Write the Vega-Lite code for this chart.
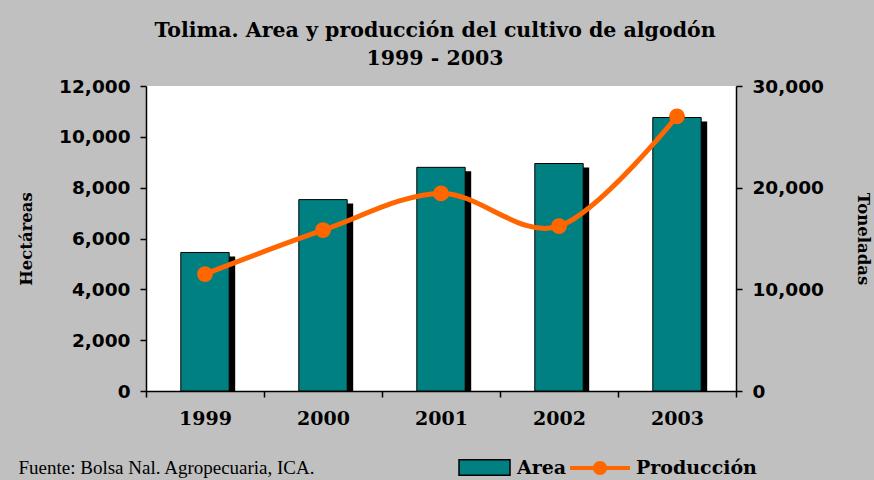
{
  "$schema": "https://vega.github.io/schema/vega-lite/v6.json",
  "autosize": "none",
  "width": 590,
  "height": 305,
  "padding": {"left": 146, "top": 86, "right": 138, "bottom": 89},
  "background": "#C0C0C0",
  "config": {
    "view": {"fill": "white", "stroke": null},
    "axis": {"grid": false, "domainColor": "black", "domainWidth": 1.5, "tickColor": "black", "tickWidth": 1.5, "tickSize": 6, "labelColor": "black", "titleColor": "black"}
  },
  "title": {
    "text": ["Tolima. Area y producción del cultivo de algodón", "1999 - 2003"],
    "font": "DejaVu Serif",
    "fontSize": 20.5,
    "fontWeight": "bold",
    "lineHeight": 28,
    "anchor": "middle",
    "offset": 8,
    "dx": -6,
    "color": "black"
  },
  "data": {
    "values": [
      {"year": "1999", "area": 5450, "produccion": 11500},
      {"year": "2000", "area": 7530, "produccion": 15820},
      {"year": "2001", "area": 8800, "produccion": 19430},
      {"year": "2002", "area": 8950, "produccion": 16210},
      {"year": "2003", "area": 10760, "produccion": 27020}
    ]
  },
  "encoding": {
    "x": {
      "field": "year",
      "type": "ordinal",
      "scale": {"paddingInner": 0, "paddingOuter": 0},
      "axis": {
        "title": "Fuente: Bolsa Nal. Agropecuaria, ICA.",
        "titleFont": "Liberation Serif",
        "titleFontSize": 19,
        "titleFontWeight": "normal",
        "titleAnchor": "start",
        "titleAlign": "left",
        "titleBaseline": "middle",
        "titleX": -128,
        "titleY": 76,
        "labelAngle": 0,
        "labelFont": "DejaVu Serif",
        "labelFontWeight": "bold",
        "labelFontSize": 19,
        "labelPadding": 12,
        "tickBand": "extent"
      }
    }
  },
  "layer": [
    {
      "encoding": {
        "y": {
          "field": "area",
          "type": "quantitative",
          "scale": {"domain": [0, 12000], "nice": false},
          "axis": {
            "values": [0, 2000, 4000, 6000, 8000, 10000, 12000],
            "format": ",.0f",
            "title": "Hectáreas",
            "titleFont": "DejaVu Serif",
            "titleFontSize": 16.5,
            "titleFontWeight": "bold",
            "titlePadding": 24,
            "labelFont": "DejaVu Sans",
            "labelFontWeight": "bold",
            "labelFontSize": 18.5,
            "labelPadding": 10
          }
        }
      },
      "layer": [
        {
          "mark": {"type": "bar", "color": "black", "width": {"band": 0.41}, "xOffset": 6, "yOffset": 4, "clip": true}
        },
        {
          "mark": {"type": "bar", "stroke": "black", "strokeWidth": 1, "width": {"band": 0.41}},
          "encoding": {
            "fill": {
              "datum": "Area",
              "type": "nominal",
              "scale": {"range": ["#008080"]},
              "legend": {
                "orient": "none",
                "legendX": 312,
                "legendY": 355,
                "title": null,
                "padding": 0,
                "symbolType": "M-1,-0.3H1V0.3H-1Z",
                "symbolSize": 2601,
                "symbolStrokeColor": "black",
                "symbolStrokeWidth": 1.5,
                "labelFont": "DejaVu Serif",
                "labelFontWeight": "bold",
                "labelFontSize": 19,
                "labelOffset": 6,
                "labelColor": "black"
              }
            }
          }
        }
      ]
    },
    {
      "encoding": {
        "y": {
          "field": "produccion",
          "type": "quantitative",
          "scale": {"domain": [0, 30000], "nice": false},
          "axis": {
            "orient": "right",
            "values": [0, 10000, 20000, 30000],
            "format": ",.0f",
            "title": "Toneladas",
            "titleFont": "DejaVu Serif",
            "titleFontSize": 16.5,
            "titleFontWeight": "bold",
            "titlePadding": 31,
            "labelFont": "DejaVu Sans",
            "labelFontWeight": "bold",
            "labelFontSize": 18.5,
            "labelPadding": 10
          }
        },
        "color": {
          "datum": "Producción",
          "type": "nominal",
          "scale": {"range": ["#FF6600"]},
          "legend": {
            "orient": "none",
            "legendX": 422,
            "legendY": 350,
            "title": null,
            "padding": 0,
            "symbolType": "M-1,0H1M0.17,0A0.17,0.17 0 1,1 -0.17,0A0.17,0.17 0 1,1 0.17,0Z",
            "symbolSize": 3600,
            "symbolStrokeWidth": 4,
            "labelFont": "DejaVu Serif",
            "labelFontWeight": "bold",
            "labelFontSize": 19,
            "labelOffset": 4,
            "labelColor": "black",
            "encode": {"symbols": {"update": {"fill": {"value": "#FF6600"}, "stroke": {"value": "#FF6600"}}}}
          }
        }
      },
      "layer": [
        {"mark": {"type": "line", "strokeWidth": 5, "interpolate": "cardinal"}},
        {"mark": {"type": "point", "filled": true, "size": 250, "opacity": 1}}
      ]
    }
  ],
  "resolve": {"scale": {"y": "independent"}}
}
